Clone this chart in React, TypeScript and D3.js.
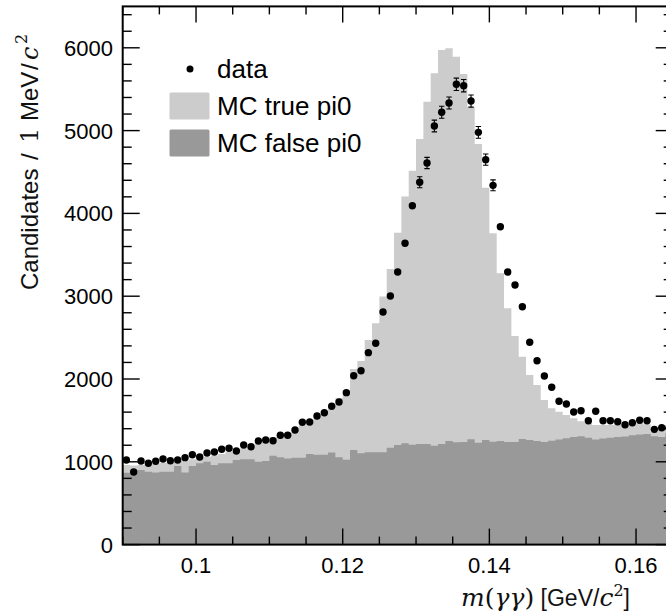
import React from 'react';
import * as d3 from 'd3';

const X_MIN = 0.09;
const X_MAX = 0.165;
const BIN_WIDTH = 0.001;
const Y_MAX = 6500;

const dataCounts = [
  1022, 877, 1010, 982, 1006, 1034, 1013, 1022, 1050, 1086,
  1058, 1106, 1118, 1151, 1163, 1130, 1203, 1182, 1251, 1263,
  1255, 1320, 1320, 1384, 1477, 1481, 1553, 1593, 1670, 1722,
  1835, 2040, 2100, 2318, 2431, 2809, 3002, 3292, 3639, 4093,
  4376, 4609, 5056, 5221, 5333, 5559, 5542, 5357, 4979, 4649,
  4339, 3839, 3292, 3135, 2873, 2443, 2221, 2036, 1900, 1731,
  1698, 1601, 1617, 1496, 1610, 1496, 1496, 1484, 1448, 1472,
  1501, 1496, 1392, 1412, 1410,
];

const mcTotal = [
  960, 955, 960, 965, 975, 985, 990, 1010, 1010, 1030,
  1045, 1060, 1075, 1095, 1120, 1140, 1165, 1185, 1220, 1270,
  1300, 1320, 1350, 1390, 1440, 1490, 1550, 1610, 1680, 1770,
  1860, 2121, 2217, 2471, 2672, 2996, 3327, 3767, 4205, 4516,
  4899, 5349, 5692, 5973, 5994, 5893, 5683, 5281, 4838, 4310,
  3760, 3277, 2854, 2519, 2270, 2048, 1929, 1746, 1646, 1605,
  1565, 1525, 1490, 1465, 1445, 1445, 1445, 1450, 1450, 1455,
  1470, 1455, 1360, 1420, 1440,
];

const mcFalse = [
  869, 869, 901, 881, 872, 881, 881, 950, 872, 950,
  982, 1001, 961, 982, 982, 1022, 1030, 1030, 1001, 1010,
  1074, 1054, 1040, 1050, 1050, 1094, 1086, 1086, 1111, 1054,
  1025, 1143, 1103, 1115, 1115, 1115, 1170, 1203, 1223, 1207,
  1215, 1215, 1195, 1215, 1251, 1235, 1239, 1272, 1231, 1263,
  1243, 1251, 1239, 1239, 1276, 1263, 1251, 1240, 1255, 1270,
  1285, 1300, 1310, 1290, 1270, 1280, 1290, 1300, 1305, 1320,
  1330, 1335, 1310, 1300, 1345,
];

const xMajorTicks = [0.1, 0.12, 0.14, 0.16];
const xTickLabels = ['0.1', '0.12', '0.14', '0.16'];
const yMajorTicks = [0, 1000, 2000, 3000, 4000, 5000, 6000];
const yTickLabels = ['0', '1000', '2000', '3000', '4000', '5000', '6000'];

const legendLabels = ['data', 'MC true pi0', 'MC false pi0'];

const SANS = '"Liberation Sans", Arial, Helvetica, sans-serif';
const MATH = '"DejaVu Serif", "Liberation Serif", serif';

export default function App() {
  const W = 666;
  const H = 614;
  const left = 122.7;
  const right = 672.7;
  const top = 6.4;
  const bottom = 544.6;

  const x = d3.scaleLinear().domain([X_MIN, X_MAX]).range([left, right]);
  const y = d3.scaleLinear().domain([0, Y_MAX]).range([bottom, top]);

  const n = dataCounts.length;
  const edges = d3.range(n + 1).map((i) => X_MIN + i * BIN_WIDTH);
  const stepPts = (vals: number[]) =>
    [...vals.map((v, i) => [edges[i], v]), [edges[n], vals[n - 1]]] as [number, number][];

  const area = d3
    .area<[number, number]>()
    .x((d) => x(d[0]))
    .y0(y(0))
    .y1((d) => y(d[1]))
    .curve(d3.curveStepAfter);

  const xMinor = d3.range(0, 16).map((i) => X_MIN + i * 0.005);
  const yMinor = d3.range(0, 33).map((i) => i * 200);

  const majTX = 16;
  const minTX = 8;
  const majTY = 17;
  const minTY = 9;

  return (
    <div style={{ position: 'absolute', left: 0, top: 0, width: W, height: H, background: '#fff' }}>
      <svg width={W} height={H} style={{ display: 'block' }}>
        <defs>
          <clipPath id="plotclip">
            <rect x={left} y={top} width={right - left} height={bottom - top} />
          </clipPath>
        </defs>
        <g clipPath="url(#plotclip)">
          <path d={area(stepPts(mcTotal)) || ''} fill="#cccccc" />
          <path d={area(stepPts(mcFalse)) || ''} fill="#999999" />
          {dataCounts.map((v, i) => {
            const cx = x(X_MIN + (i + 0.5) * BIN_WIDTH);
            const cy = y(v);
            const err = Math.sqrt(v);
            const yHi = y(v + err);
            const yLo = y(v - err);
            const showErr = yLo - cy > 5.4;
            return (
              <g key={i}>
                {showErr && (
                  <g stroke="#000" strokeWidth={1.1}>
                    <line x1={cx} x2={cx} y1={yHi} y2={yLo} />
                    <line x1={cx - 2.7} x2={cx + 2.7} y1={yHi} y2={yHi} />
                    <line x1={cx - 2.7} x2={cx + 2.7} y1={yLo} y2={yLo} />
                  </g>
                )}
                <circle cx={cx} cy={cy} r={3.7} fill="#000" />
              </g>
            );
          })}
        </g>

        {/* ticks */}
        <g stroke="#000" strokeWidth={1.4}>
          {xMinor.map((t, i) => {
            const isMaj = xMajorTicks.some((m) => Math.abs(m - t) < 1e-9);
            const len = isMaj ? majTX : minTX;
            const px = x(t);
            return (
              <g key={'xt' + i}>
                <line x1={px} x2={px} y1={bottom} y2={bottom - len} />
                <line x1={px} x2={px} y1={top} y2={top + len} />
              </g>
            );
          })}
          {yMinor.map((t, i) => {
            const isMaj = t % 1000 === 0;
            const len = isMaj ? majTY : minTY;
            const py = y(t);
            return (
              <g key={'yt' + i}>
                <line x1={left} x2={left + len} y1={py} y2={py} />
                <line x1={right} x2={right - len} y1={py} y2={py} />
              </g>
            );
          })}
        </g>

        {/* frame */}
        <rect x={left} y={top} width={right - left} height={bottom - top} fill="none" stroke="#000" strokeWidth={2} />

        {/* tick labels */}
        <g fontFamily={SANS} fontSize={22} fill="#000">
          {xMajorTicks.map((t, i) => (
            <text key={'xl' + i} x={x(t)} y={573} textAnchor="middle">
              {xTickLabels[i]}
            </text>
          ))}
          {yMajorTicks.map((t, i) => (
            <text key={'yl' + i} x={113} y={y(t) + 8} textAnchor="end">
              {yTickLabels[i]}
            </text>
          ))}
        </g>

        {/* y axis title (rotated; x runs upward along page) */}
        <g transform="translate(38, 0) rotate(-90)" fontFamily={SANS} fontSize={24} fill="#111">
          <text x={-290}>Candidates</text>
          <text x={-160}>/</text>
          <text x={-143} fontFamily={MATH}>1</text>
          <text x={-121}>MeV</text>
          <text x={-70}>/</text>
          <text x={-60} fontFamily={MATH} fontStyle="italic">c</text>
          <text x={-44} y={-11} fontFamily={MATH} fontSize={16}>2</text>
        </g>

        {/* x axis title */}
        <text x={630} y={606} textAnchor="end" fontFamily={SANS} fontSize={23} fill="#111">
          <tspan fontFamily={MATH} fontStyle="italic" fontSize={25}>m</tspan>
          <tspan fontFamily={MATH} fontSize={25}>(</tspan>
          <tspan fontFamily={MATH} fontStyle="italic" fontSize={25}>γγ</tspan>
          <tspan fontFamily={MATH} fontSize={25}>)</tspan>
          <tspan> [GeV/</tspan>
          <tspan fontFamily={MATH} fontStyle="italic" fontSize={25}>c</tspan>
          <tspan fontFamily={MATH} fontSize={16} dy={-10}>2</tspan>
          <tspan dy={10}>]</tspan>
        </text>

        {/* legend */}
        <g fontFamily={SANS} fontSize={26} fill="#000">
          <circle cx={190} cy={69} r={3.5} fill="#000" />
          <text x={217} y={78}>{legendLabels[0]}</text>
          <rect x={169.5} y={92.5} width={40} height={27} rx={1.5} fill="#cccccc" />
          <text x={217} y={115}>{legendLabels[1]}</text>
          <rect x={169.5} y={129.5} width={40} height={27} rx={1.5} fill="#999999" />
          <text x={217} y={152}>{legendLabels[2]}</text>
        </g>
      </svg>
    </div>
  );
}
